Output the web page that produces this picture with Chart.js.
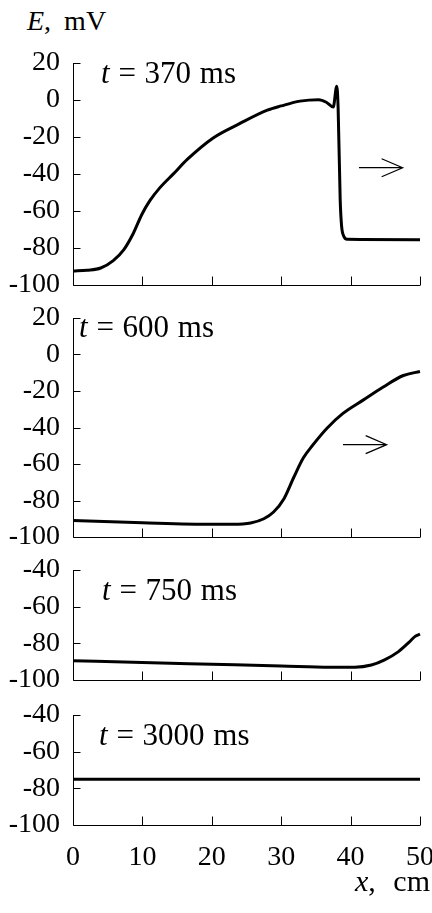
<!DOCTYPE html>
<html lang="en">
<head>
  <meta charset="UTF-8" />
  <meta name="viewport" content="width=device-width, initial-scale=1.0"/>
  <title>Membrane potential profiles E(x)</title>
  <script src="https://cdn.jsdelivr.net/npm/chart.js"></script>
  <style>
    body {
      margin: 0;
      background: #fff;
      font-family: 'Liberation Serif', 'Times New Roman', serif;
      color: #000;
    }

    .page {
      position: relative;
      width: 432px;
      height: 913px;
      overflow: hidden;
    }

    .page canvas {
      position: absolute;
      left: 0;
    }

    .lbl {
      position: absolute;
      font-size: 28px;
      line-height: 28px;
      white-space: nowrap;
    }

    .tlbl {
      font-size: 31px;
      line-height: 31px;
      word-spacing: 1px;
    }

    .wide { word-spacing: 6px; }
  </style>
</head>
<body>
  <div class="page">
    <div class="lbl wide" style="left:27px; top:7px;"><i>E</i>, mV</div>

    <canvas id="p370" width="432" height="260" style="top:40px"></canvas>
    <canvas id="p600" width="432" height="255" style="top:300px"></canvas>
    <canvas id="p750" width="432" height="145" style="top:555px"></canvas>
    <canvas id="p3000" width="432" height="213" style="top:700px"></canvas>

    <div class="lbl tlbl" style="left:101px; top:57px;"><i>t</i> = 370 ms</div>
    <div class="lbl tlbl" style="left:79px; top:311px;"><i>t</i> = 600 ms</div>
    <div class="lbl tlbl" style="left:102px; top:574px;"><i>t</i> = 750 ms</div>
    <div class="lbl tlbl" style="left:99px; top:719px;"><i>t</i> = 3000 ms</div>

    <div class="lbl wide" style="right:2px; top:867px; font-size:30px; word-spacing:10px;"><i>x</i>, cm</div>
  </div>

  <script>
    // x in cm, E in mV
    const x370 = [0, 2, 4, 5.8, 7.3, 8.7, 9.9, 11.1, 12.5, 14.5, 16.5, 20.2, 24, 28, 30, 32.7, 35.4, 36.5, 37.5, 38, 38.2, 38.5, 38.7, 39, 39.5, 50];
    const e370 = [-92.5, -92, -90.8, -86.8, -81, -72, -62, -54.3, -47.5, -39.8, -32, -20.5, -12.8, -5.5, -3.2, -0.6, 0.2, -1.2, -3.8, 7.5, -4, -54, -68, -73.5, -75.3, -75.5];

    const x600 = [0, 10, 20, 23, 25.6, 27.5, 28.9, 30.4, 31.8, 33.2, 34.6, 36.6, 38.9, 41.8, 44.7, 47.6, 50];
    const e600 = [-91, -92.2, -93, -93, -92.3, -90, -86.3, -79, -67.4, -56.6, -49.4, -40.4, -32.3, -25, -17.8, -11.5, -9.3];

    const x750 = [0, 10, 20, 30, 37, 40.6, 43, 44.9, 46.9, 48.4, 49.3, 50];
    const e750 = [-89.5, -90.5, -91.4, -92.3, -93, -93, -91.8, -89, -84.5, -79.5, -76.2, -75];

    const x3000 = [0, 50];
    const e3000 = [-75, -75];

    const xRange = [0, 50];
    const yRangeTall = [-100, 20];
    const yRangeShort = [-100, -40];
    const tickStep = { x: 10, y: 20 };

    Chart.defaults.font.family = 'Liberation Serif';
    const FONT = { family: 'Liberation Serif', size: 28 };

    // axis lines with inward ticks, plus the optional direction arrow
    const axesPlugin = {
      id: 'axes',
      afterDraw(chart, args, opts) {
        const { ctx, chartArea: { left, right, top, bottom }, scales: { x, y } } = chart;
        ctx.save();
        ctx.strokeStyle = '#000';
        ctx.lineWidth = 1;
        ctx.beginPath();
        const lx = Math.round(left) + 0.5;
        const by = Math.round(bottom) + 0.5;
        ctx.moveTo(lx, top);
        ctx.lineTo(lx, by);
        ctx.lineTo(right, by);
        y.ticks.forEach(t => {
          const py = Math.round(y.getPixelForValue(t.value)) + 0.5;
          ctx.moveTo(lx, py);
          ctx.lineTo(lx + 7, py);
        });
        x.ticks.forEach(t => {
          if (t.value === xRange[0]) return;
          const px = Math.round(x.getPixelForValue(t.value)) + 0.5;
          ctx.moveTo(px, by);
          ctx.lineTo(px, by - 9);
        });
        ctx.stroke();

        if (opts.arrow) {
          const a = opts.arrow;
          const x0 = x.getPixelForValue(a.from);
          const x1 = x.getPixelForValue(a.to);
          const py = y.getPixelForValue(a.at);
          ctx.lineWidth = 1.2;
          ctx.beginPath();
          ctx.moveTo(x0, py);
          ctx.lineTo(x1, py);
          ctx.moveTo(x1 - 21, py - 9);
          ctx.lineTo(x1, py);
          ctx.lineTo(x1 - 21, py + 9);
          ctx.stroke();
        }
        ctx.restore();
      }
    };

    function makePanel(id, xs, es, yRange, cfg) {
      const ctx = document.getElementById(id).getContext('2d');
      return new Chart(ctx, {
        type: 'line',
        data: {
          datasets: [{
            data: xs.map((v, i) => ({ x: v, y: es[i] })),
            borderColor: '#000',
            borderWidth: 3,
            pointRadius: 0,
            fill: false,
            cubicInterpolationMode: 'monotone',
            clip: 4
          }]
        },
        options: {
          responsive: false,
          animation: false,
          layout: { padding: { left: 0, right: 12, top: cfg.padTop, bottom: cfg.padBottom } },
          plugins: {
            legend: { display: false },
            tooltip: { enabled: false },
            axes: { arrow: cfg.arrow || null }
          },
          scales: {
            x: {
              type: 'linear',
              min: xRange[0],
              max: xRange[1],
              grid: { display: false, drawTicks: false },
              border: { display: false },
              ticks: {
                display: !!cfg.showX,
                stepSize: tickStep.x,
                autoSkip: false,
                color: '#000',
                font: FONT,
                padding: 16,
                maxRotation: 0
              },
              afterFit: s => { s.height = cfg.xHeight || 0; s.paddingLeft = 0; s.paddingRight = 0; }
            },
            y: {
              min: yRange[0],
              max: yRange[1],
              grid: { display: false, drawTicks: false },
              border: { display: false },
              ticks: { stepSize: tickStep.y, autoSkip: false, color: '#000', font: FONT, padding: 13 },
              afterFit: s => { s.width = 73; s.paddingTop = 0; s.paddingBottom = 0; }
            }
          }
        },
        plugins: [axesPlugin]
      });
    }

    makePanel('p370', x370, e370, yRangeTall, { padTop: 23, padBottom: 15, arrow: { from: 41.2, to: 47.5, at: -36.6 } });
    makePanel('p600', x600, e600, yRangeTall, { padTop: 18, padBottom: 18, arrow: { from: 38.9, to: 45.2, at: -49.4 } });
    makePanel('p750', x750, e750, yRangeShort, { padTop: 15, padBottom: 20 });
    makePanel('p3000', x3000, e3000, yRangeShort, { padTop: 15, padBottom: 0, showX: true, xHeight: 88 });
  </script>
</body>
</html>
